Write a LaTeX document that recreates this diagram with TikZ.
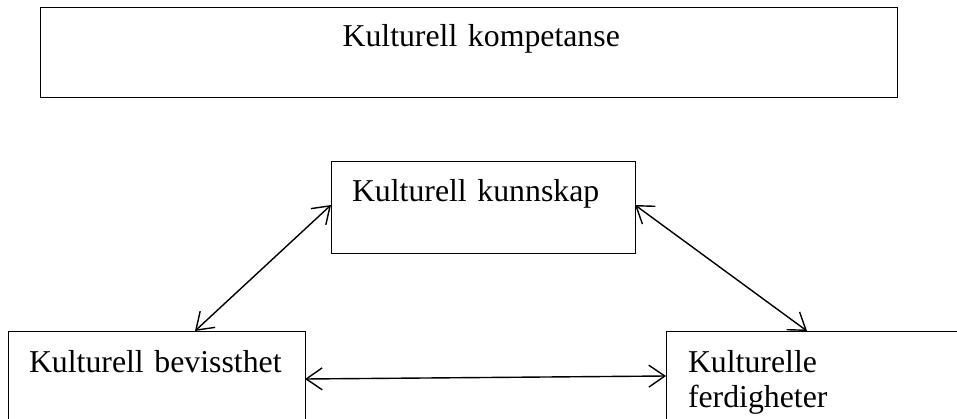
\documentclass[tikz,border=0pt]{standalone}
\usepackage{fontspec}
\setmainfont{Liberation Serif}
\usetikzlibrary{arrows.meta}
\tikzset{
  blok/.style={draw, rectangle, line width=1pt, anchor=north west, outer sep=0pt, inner ysep=0pt, align=left, font=\fontsize{31.8}{35}\selectfont},
  pijl/.style={line width=1.4pt, {Straight Barb[length=16pt,width=22pt]}-{Straight Barb[length=16pt,width=22pt]}}
}
\begin{document}
\begin{tikzpicture}[x=1pt,y=-1pt]
\useasboundingbox (0,0) rectangle (957,419);
\clip (0,0) rectangle (957,419);
\node[blok, inner xsep=0pt, text width=857pt, align=center, text height=38.7pt, text depth=51.3pt] (kompetanse) at (40.7,8) {\hspace*{24pt}Kulturell kompetanse};
\node[blok, inner xsep=21pt, text width=262pt, text height=40pt, text depth=52pt] (kunnskap) at (331,162) {Kulturell kunnskap};
\node[blok, inner xsep=21pt, text width=255pt, text height=41pt, text depth=70pt] (bevissthet) at (8,331) {Kulturell bevissthet};
\node[blok, inner xsep=22pt, text width=260pt, text height=41pt, text depth=70pt] (ferdigheter) at (666,331) {Kulturelle\\ferdigheter};
\draw[pijl] ([yshift=3pt]kunnskap.west) -- ([xshift=187pt]bevissthet.north west);
\draw[pijl] ([yshift=3pt]kunnskap.east) -- ([xshift=141pt]ferdigheter.north west);
\draw[pijl] ([yshift=-48pt]bevissthet.north east) -- ([yshift=-45pt]ferdigheter.north west);
\end{tikzpicture}
\end{document}
